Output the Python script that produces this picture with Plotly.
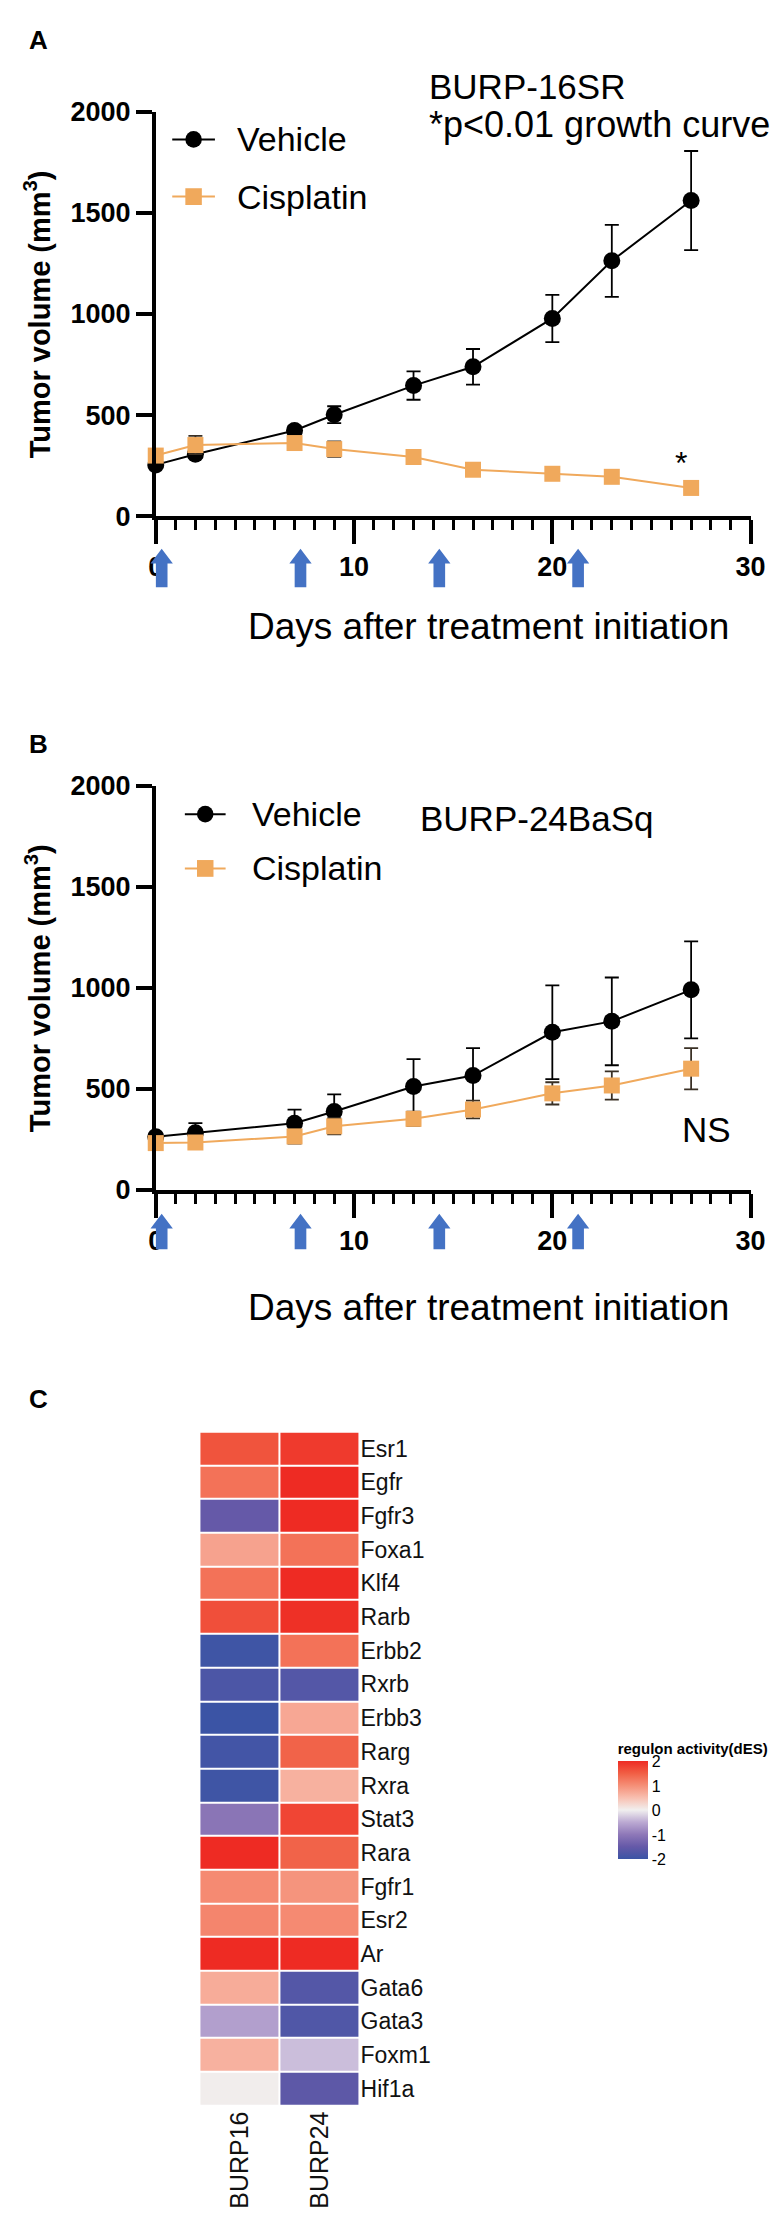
import plotly.graph_objects as go

W, H = 778, 2221

# ---------------- data ----------------
days = [0, 2, 7, 9, 13, 16, 20, 23, 27]
a_vehicle = [254, 307, 424, 502, 646, 739, 978, 1263, 1561]
a_vehicle_err = [12, 18, 22, 42, 70, 88, 117, 178, 245]
a_cis = [300, 352, 362, 332, 293, 230, 210, 195, 140]
a_cis_err = [15, 45, 30, 38, 18, 16, 16, 16, 16]

b_vehicle = [263, 283, 330, 388, 512, 566, 780, 834, 990]
b_vehicle_err = [15, 48, 68, 85, 135, 136, 232, 217, 240]
b_cis = [232, 235, 265, 315, 352, 398, 478, 517, 600]
b_cis_err = [12, 18, 35, 40, 35, 44, 55, 70, 102]

treatment_days = [0, 7, 14, 21]
y_ticks = [0, 500, 1000, 1500, 2000]
x_ticks = [0, 10, 20, 30]

genes = ["Esr1", "Egfr", "Fgfr3", "Foxa1", "Klf4", "Rarb", "Erbb2", "Rxrb", "Erbb3", "Rarg",
         "Rxra", "Stat3", "Rara", "Fgfr1", "Esr2", "Ar", "Gata6", "Gata3", "Foxm1", "Hif1a"]
samples = ["BURP16", "BURP24"]
burp16 = [1.6, 1.3, -1.5, 0.8, 1.3, 1.65, -1.95, -1.8, -2.0, -1.9,
          -1.95, -1.05, 2.0, 1.05, 1.1, 2.0, 0.7, -0.6, 0.65, 0.02]
burp24 = [1.85, 2.0, 2.0, 1.3, 2.0, 1.95, 1.3, -1.7, 0.75, 1.45,
          0.65, 1.75, 1.45, 0.95, 1.05, 2.0, -1.7, -1.75, -0.35, -1.6]
cbar_ticks = [-2, -1, 0, 1, 2]
series_names = ["Vehicle", "Cisplatin"]

# ---------------- layout helpers ----------------
FONT = "Liberation Sans, Arial, Helvetica, sans-serif"
BLACK = "#000000"
ORANGE = "#F0A95C"
BLUE_ARROW = "#4472C4"


def px_x(p):
    return p / W


def px_y(p):
    return 1 - p / H


XA0, XA1 = 144, 757           # x-axis pixel extent (both growth panels)
A_TOP, A_BOT = 90, 500         # panel A y extent
B_TOP, B_BOT = 773, 1183       # panel B y extent
HM_L, HM_R = 189, 354          # heatmap x extent
HM_T, HM_B = 1428, 2111        # heatmap y extent
X_RANGE = [0, 30]
Y_RANGE = [0, 2000]
MARKER = 17

fig = go.Figure()


def add_growth(xa, ya, veh, veh_err, cis, cis_err):
    fig.add_trace(go.Scatter(
        x=days, y=veh, xaxis=xa, yaxis=ya, name=series_names[0],
        mode="lines+markers", cliponaxis=False, showlegend=False,
        line=dict(color=BLACK, width=2),
        marker=dict(symbol="circle", size=MARKER, color=BLACK),
        error_y=dict(type="data", array=veh_err, color=BLACK, thickness=1.8, width=7),
    ))
    fig.add_trace(go.Scatter(
        x=days, y=cis, xaxis=xa, yaxis=ya, name=series_names[1],
        mode="lines+markers", cliponaxis=False, showlegend=False,
        line=dict(color=ORANGE, width=2),
        marker=dict(symbol="square", size=MARKER - 1, color=ORANGE),
        error_y=dict(type="data", array=cis_err, color="#3a3025", thickness=1.8, width=7),
    ))


add_growth("x", "y", a_vehicle, a_vehicle_err, a_cis, a_cis_err)
add_growth("x2", "y2", b_vehicle, b_vehicle_err, b_cis, b_cis_err)

fig.add_trace(go.Heatmap(
    z=[[a, b] for a, b in zip(burp16, burp24)],
    x=samples, y=genes, xaxis="x3", yaxis="y3",
    zmin=-2, zmax=2, xgap=2, ygap=2,
    colorscale=[[0, "#3B54A5"], [0.125, "#6559A8"], [0.25, "#8E78B8"], [0.375, "#BBA9D2"],
                [0.5, "#F1EFEF"], [0.625, "#F8BFB0"], [0.75, "#F58F77"], [0.875, "#F15E44"],
                [1, "#EE2B23"]],
    colorbar=dict(
        title=dict(text="regulon activity(dES)", side="top",
                   font=dict(size=15, family=FONT, weight="bold", color=BLACK)),
        x=px_x(620), xanchor="left", y=px_y(1740), yanchor="top",
        lenmode="pixels", len=120, thicknessmode="pixels", thickness=30,
        tickvals=cbar_ticks, ticktext=[str(t) for t in cbar_ticks],
        tickfont=dict(size=16, family=FONT, color=BLACK), ticks="",
        outlinewidth=0, xpad=0, ypad=0,
    ),
    showscale=True,
))

axis_common = dict(showline=True, linewidth=3.5, linecolor=BLACK, ticks="outside",
                   tickcolor=BLACK, tickwidth=3.5, showgrid=False, zeroline=False,
                   tickfont=dict(size=27, family=FONT, weight="bold", color=BLACK))

xcommon = dict(axis_common, range=X_RANGE, tickvals=x_ticks, ticklen=24,
               minor=dict(dtick=1, tick0=0, ticks="outside", ticklen=10, tickwidth=3,
                          tickcolor=BLACK))
ycommon = dict(axis_common, range=Y_RANGE, tickvals=y_ticks, ticklen=16)

fig.update_layout(
    width=W, height=H, margin=dict(l=0, r=0, t=0, b=0),
    paper_bgcolor="white", plot_bgcolor="white", showlegend=False,
    font=dict(family=FONT, color=BLACK),
    xaxis=dict(xcommon, domain=[px_x(XA0), px_x(XA1)], anchor="y"),
    yaxis=dict(ycommon, domain=[px_y(A_BOT), px_y(A_TOP)], anchor="x"),
    xaxis2=dict(xcommon, domain=[px_x(XA0), px_x(XA1)], anchor="y2"),
    yaxis2=dict(ycommon, domain=[px_y(B_BOT), px_y(B_TOP)], anchor="x2"),
    xaxis3=dict(domain=[px_x(HM_L), px_x(HM_R)], anchor="y3", tickangle=-90,
                tickfont=dict(size=25, family=FONT, color="#111111"), ticks="",
                showline=False, showgrid=False, zeroline=False),
    yaxis3=dict(domain=[px_y(HM_B), px_y(HM_T)], anchor="x3", side="right",
                autorange="reversed", tickfont=dict(size=23, family=FONT, color="#111111"),
                ticks="", showline=False, showgrid=False, zeroline=False),
)


def ann(text, x, y, size, bold=False, xanchor="left", yanchor="middle", angle=0):
    fig.add_annotation(text=text, x=px_x(x), y=px_y(y), xref="paper", yref="paper",
                       showarrow=False, xanchor=xanchor, yanchor=yanchor, textangle=angle,
                       font=dict(size=size, family=FONT, color=BLACK,
                                 weight="bold" if bold else "normal"))


def legend_entry(x0, x1, y, color, symbol, text, text_x):
    """Legend glyph: short line with a centred marker, then the series name."""
    fig.add_shape(type="line", xref="paper", yref="paper",
                  x0=px_x(x0), x1=px_x(x1), y0=px_y(y), y1=px_y(y),
                  line=dict(color=color, width=2))
    cx, r = (x0 + x1) / 2, MARKER / 2
    fig.add_shape(type="circle" if symbol == "circle" else "rect",
                  xref="paper", yref="paper",
                  x0=px_x(cx - r), x1=px_x(cx + r), y0=px_y(y + r), y1=px_y(y - r),
                  fillcolor=color, line=dict(width=0))
    ann(text, text_x, y, 34)


# panel letters
ann("A", 11, 17, 26, bold=True)
ann("B", 11, 731, 26, bold=True)
ann("C", 11, 1395, 26, bold=True)

# panel A texts
legend_entry(161, 205, 118, BLACK, "circle", series_names[0], 226)
legend_entry(161, 205, 176, ORANGE, "square", series_names[1], 226)
ann("BURP-16SR", 424, 64, 35)
ann("*p<0.01 growth curve", 424, 103, 36)
ann("Tumor volume (mm<sup>3</sup>)", 22, (A_TOP + A_BOT) / 2, 29, bold=True,
    xanchor="center", angle=-90)
ann("Days after treatment initiation", 487, 612, 37, xanchor="center")
fig.add_annotation(text="*", x=26.5, y=265, xref="x", yref="y", showarrow=False,
                   font=dict(size=32, family=FONT, color=BLACK))

# panel B texts
legend_entry(174, 216, 802, BLACK, "circle", series_names[0], 241)
legend_entry(174, 216, 857, ORANGE, "square", series_names[1], 241)
ann("BURP-24BaSq", 414, 806, 35)
ann("Tumor volume (mm<sup>3</sup>)", 22, (B_TOP + B_BOT) / 2, 29, bold=True,
    xanchor="center", angle=-90)
ann("Days after treatment initiation", 487, 1302, 37, xanchor="center")
fig.add_annotation(text="NS", x=27.8, y=300, xref="x2", yref="y2", showarrow=False,
                   font=dict(size=35, family=FONT, color=BLACK))

# treatment arrows (block arrows under the x axes)
ARROW_SHIFT = 0.3


def day_to_px(d):
    return XA0 + (d - X_RANGE[0]) / (X_RANGE[1] - X_RANGE[0]) * (XA1 - XA0)


def arrow(cx, y_tip, y_bot, head_w=23, head_h=15, shaft_w=12):
    pts = [(cx, y_tip), (cx + head_w / 2, y_tip + head_h), (cx + shaft_w / 2, y_tip + head_h),
           (cx + shaft_w / 2, y_bot), (cx - shaft_w / 2, y_bot),
           (cx - shaft_w / 2, y_tip + head_h), (cx - head_w / 2, y_tip + head_h)]
    path = "M " + " L ".join(f"{px_x(x):.5f},{px_y(y):.5f}" for x, y in pts) + " Z"
    fig.add_shape(type="path", path=path, xref="paper", yref="paper",
                  fillcolor=BLUE_ARROW, line=dict(width=0), layer="above")


for d in treatment_days:
    arrow(day_to_px(d + ARROW_SHIFT), A_BOT + 33, A_BOT + 72)
    arrow(day_to_px(d + ARROW_SHIFT), B_BOT + 24, B_BOT + 60)

fig.write_html("out.html")
